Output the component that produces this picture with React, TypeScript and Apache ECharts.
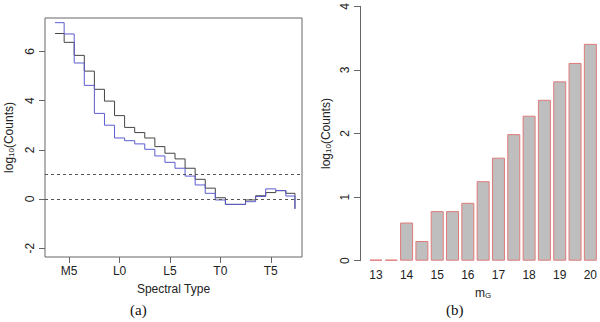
import React, { useEffect, useRef } from "react";
import * as echarts from "echarts";

// Left panel: spectral-type histogram (step lines), bin edges on numeric spectral index (M0=0, L0=10, T0=20)
const binEdges = [3.6, 4.5, 5.5, 6.5, 7.5, 8.5, 9.5, 10.5, 11.5, 12.5, 13.5, 14.5, 15.5, 16.5, 17.5, 18.5, 19.5, 20.5, 21.5, 22.5, 23.5, 24.5, 25.5, 26.5, 27.4];
const blackCounts = [6.73, 6.37, 5.84, 5.2, 4.46, 3.98, 3.39, 2.91, 2.7, 2.48, 2.13, 1.86, 1.63, 1.25, 0.8, 0.44, 0.05, -0.22, -0.22, -0.04, 0.13, 0.26, 0.34, 0.23, -0.4];
const blueCounts = [7.17, 6.71, 5.53, 4.62, 3.48, 3.0, 2.48, 2.37, 2.24, 2.02, 1.75, 1.49, 1.25, 0.93, 0.57, 0.23, -0.04, -0.22, -0.22, -0.11, 0.1, 0.41, 0.34, 0.12, -0.4];
const spectralTicks = [5, 10, 15, 20, 25];
const spectralLabels = ["M5", "L0", "L5", "T0", "T5"];
const leftYTicks = [-2, 0, 2, 4, 6];
const refLines = [0, 1];

// Right panel: magnitude histogram
const magnitudes = ["13", "13.5", "14", "14.5", "15", "15.5", "16", "16.5", "17", "17.5", "18", "18.5", "19", "19.5", "20"];
const magCounts = [0, 0, 0.6, 0.31, 0.78, 0.78, 0.91, 1.25, 1.62, 1.99, 2.28, 2.53, 2.82, 3.11, 3.41];

const FONT = "Liberation Sans, Arial, sans-serif";
const TXT = "#222";
const AX = "#666";
const FS = 12;

export default function App() {
  const ref = useRef<HTMLDivElement>(null);
  useEffect(() => {
    if (!ref.current) return;
    const chart = echarts.init(ref.current, null, { renderer: "svg" });
    const labelMap: Record<number, string> = {};
    spectralTicks.forEach((t, i) => (labelMap[t] = spectralLabels[i]));
    const nameRich = {
      sub: { fontSize: 8, fontFamily: FONT, color: TXT, verticalAlign: "bottom", padding: [5, 0, 0, 0] },
    };
    chart.setOption({
      animation: false,
      backgroundColor: "#fff",
      textStyle: { fontFamily: FONT },
      grid: [
        { left: 45, right: 298, top: 18, bottom: 65, show: true, borderColor: AX, borderWidth: 1, backgroundColor: "transparent" },
        { left: 368.3, right: 1, top: 3.3, bottom: 61.3 },
      ],
      xAxis: [
        {
          type: "value",
          gridIndex: 0,
          min: 2.6,
          max: 28.1,
          splitLine: { show: false },
          axisLine: { show: false, onZero: false },
          axisTick: { show: true, length: 6, lineStyle: { color: AX }, customValues: spectralTicks },
          axisLabel: {
            customValues: spectralTicks,
            formatter: (v: number) => labelMap[Math.round(v)] ?? "",
            color: TXT,
            fontSize: FS,
            fontFamily: FONT,
            margin: 8,
          },
          name: "Spectral Type",
          nameLocation: "middle",
          nameGap: 26,
          nameTextStyle: { color: TXT, fontSize: FS, fontFamily: FONT },
        },
        {
          type: "category",
          gridIndex: 1,
          data: magnitudes,
          axisLine: { show: false, onZero: false },
          axisTick: { show: false },
          axisLabel: { interval: 1, color: TXT, fontSize: FS, fontFamily: FONT, margin: 8 },
          name: "m{sub|G}",
          nameLocation: "middle",
          nameGap: 26,
          nameTextStyle: { color: TXT, fontSize: FS, fontFamily: FONT, rich: nameRich },
        },
      ],
      yAxis: [
        {
          type: "value",
          gridIndex: 0,
          min: -2.36,
          max: 7.36,
          splitLine: { show: false },
          axisLine: { show: false, onZero: false },
          axisTick: { show: true, length: 6, lineStyle: { color: AX }, customValues: leftYTicks },
          axisLabel: { customValues: leftYTicks, rotate: 90, color: TXT, fontSize: FS, fontFamily: FONT, margin: 9 },
          name: "log{sub|10}(Counts)",
          nameLocation: "middle",
          nameRotate: 90,
          nameGap: 30,
          nameTextStyle: { color: TXT, fontSize: FS, fontFamily: FONT, rich: nameRich },
        },
        {
          type: "value",
          gridIndex: 1,
          min: 0,
          max: 4,
          interval: 1,
          offset: 8.3,
          splitLine: { show: false },
          axisLine: { show: true, onZero: false, lineStyle: { color: AX } },
          axisTick: { show: true, length: 6, lineStyle: { color: AX } },
          axisLabel: { rotate: 90, color: TXT, fontSize: FS, fontFamily: FONT, margin: 9 },
          name: "log{sub|10}(Counts)",
          nameLocation: "middle",
          nameRotate: 90,
          nameGap: 28,
          nameTextStyle: { color: TXT, fontSize: FS, fontFamily: FONT, rich: nameRich },
        },
      ],
      series: [
        {
          type: "line",
          xAxisIndex: 0,
          yAxisIndex: 0,
          step: "end",
          showSymbol: false,
          data: binEdges.map((x, i) => [x, blackCounts[i]]),
          lineStyle: { color: "#444", width: 1 },
          markLine: {
            silent: true,
            symbol: "none",
            label: { show: false },
            lineStyle: { color: "#555", width: 1, type: [3, 3] },
            data: refLines.map((v) => ({ yAxis: v })),
          },
        },
        {
          type: "line",
          xAxisIndex: 0,
          yAxisIndex: 0,
          step: "end",
          showSymbol: false,
          data: binEdges.map((x, i) => [x, blueCounts[i]]),
          lineStyle: { color: "#5c5cd0", width: 1 },
        },
        {
          type: "bar",
          xAxisIndex: 1,
          yAxisIndex: 1,
          data: magCounts,
          barWidth: 13,
          barMinHeight: 1,
          itemStyle: { color: "#bebebe", borderColor: "#e07a7a", borderWidth: 1 },
        },
      ],
      graphic: [
        { type: "text", left: 130, top: 302, style: { text: "(a)", font: "15px 'Liberation Serif', 'Times New Roman', serif", fill: "#111" } },
        { type: "text", left: 446, top: 302, style: { text: "(b)", font: "15px 'Liberation Serif', 'Times New Roman', serif", fill: "#111" } },
      ],
    });
    return () => chart.dispose();
  }, []);
  return <div ref={ref} style={{ position: "fixed", left: 0, top: 0, width: 600, height: 322 }} />;
}
